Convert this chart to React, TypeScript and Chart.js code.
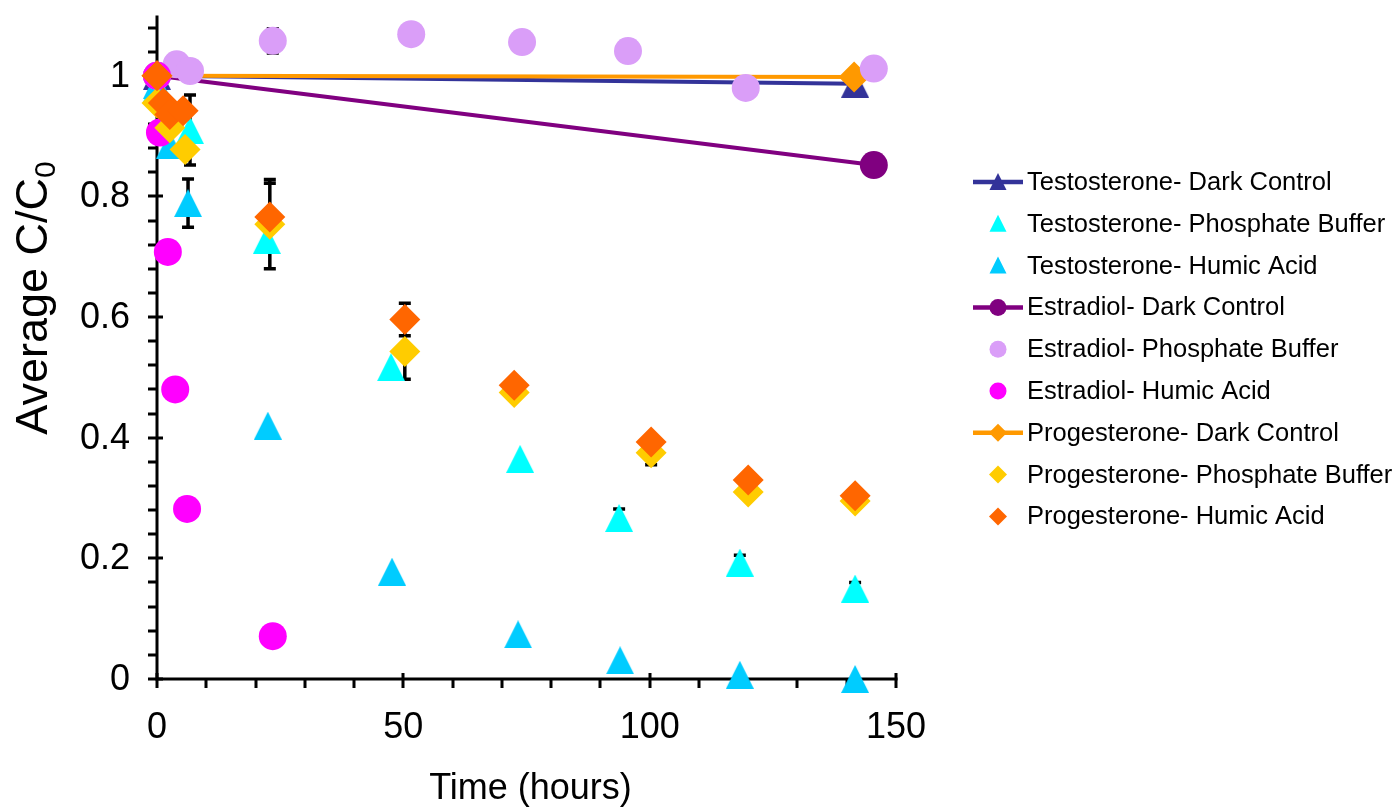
import { useEffect, useRef } from "react";
import { Chart, registerables } from "chart.js";

Chart.register(...registerables);

// ---------- axis settings ----------
const X_MIN = 0;
const X_MAX = 150;
const Y_MIN = 0;
const Y_MAX = 1.1;
const X_TICKS = [0, 50, 100, 150];
const X_TICK_LABELS = ["0", "50", "100", "150"];
const X_MINOR_STEP = 10;
const Y_TICKS = [0, 0.2, 0.4, 0.6, 0.8, 1];
const Y_TICK_LABELS = ["0", "0.2", "0.4", "0.6", "0.8", "1"];
const Y_MINOR_STEP = 0.04;
const X_TITLE = "Time (hours)";
const Y_TITLE = "Average C/C";
const Y_TITLE_SUB = "0";

// ---------- series names ----------
const SERIES_NAMES = [
  "Testosterone- Dark Control",
  "Testosterone- Phosphate Buffer",
  "Testosterone- Humic Acid",
  "Estradiol- Dark Control",
  "Estradiol- Phosphate Buffer",
  "Estradiol- Humic Acid",
  "Progesterone- Dark Control",
  "Progesterone- Phosphate Buffer",
  "Progesterone- Humic Acid",
];

// ---------- data ----------
const tDarkTime = [0, 141.7];
const tDarkValue = [1.0, 0.987];

const tPbTime = [0, 2, 6.7, 22.3, 47.5, 73.7, 93.8, 118.3, 141.7];
const tPbValue = [0.98, 0.93, 0.91, 0.728, 0.517, 0.365, 0.267, 0.193, 0.15];
const tPbError = [0, 0, 0.058, 0, 0, 0, 0.015, 0.012, 0.01];

const tHaTime = [0, 2.6, 6.3, 22.5, 47.7, 73.3, 94, 118.3, 141.7];
const tHaValue = [0.985, 0.885, 0.789, 0.42, 0.178, 0.074, 0.031, 0.007, 0.0];
const tHaError = [0, 0, 0.04, 0, 0, 0, 0, 0, 0];

const eDarkTime = [0, 145.5];
const eDarkValue = [1.0, 0.852];

const ePbTime = [0, 4, 6.7, 23.5, 51.6, 74.1, 95.6, 119.5, 145.5];
const ePbValue = [1.0, 1.019, 1.008, 1.058, 1.069, 1.056, 1.041, 0.98, 1.012];
const ePbError = [0, 0, 0, 0.02, 0, 0, 0, 0, 0];

const eHaTime = [0, 0.6, 2.2, 3.7, 6.1, 23.5];
const eHaValue = [1.0, 0.906, 0.708, 0.48, 0.282, 0.071];

const pDarkTime = [0, 141.5];
const pDarkValue = [1.0, 0.998];

const pPbTime = [0, 2.6, 5.7, 22.9, 50.3, 72.5, 100.3, 120, 141.7];
const pPbValue = [0.955, 0.914, 0.878, 0.754, 0.543, 0.475, 0.375, 0.31, 0.295];
const pPbError = [0, 0, 0, 0.074, 0.046, 0, 0.02, 0, 0];

const pHaTime = [0, 1.3, 2.6, 5.3, 22.9, 50.3, 72.5, 100.3, 120, 141.7];
const pHaValue = [1.0, 0.955, 0.936, 0.942, 0.766, 0.596, 0.487, 0.393, 0.33, 0.304];
const pHaError = [0, 0, 0, 0, 0.056, 0.027, 0, 0, 0, 0];

// ---------- styles ----------
const FONT = '"Liberation Sans", Arial, Helvetica, sans-serif';
const C_T_DARK = "#333399";
const C_T_PB = "#00FFFF";
const C_T_HA = "#00CCFF";
const C_E_DARK = "#800080";
const C_E_PB = "#DA9EF8";
const C_E_HA = "#FF00FF";
const C_P_DARK = "#FF9900";
const C_P_PB = "#FFCC00";
const C_P_HA = "#FF6600";

function makeTriangle(color: string, w: number, h: number): HTMLCanvasElement {
  const c = document.createElement("canvas");
  c.width = w;
  c.height = h;
  const g = c.getContext("2d")!;
  g.fillStyle = color;
  g.beginPath();
  g.moveTo(w / 2, 0);
  g.lineTo(w, h);
  g.lineTo(0, h);
  g.closePath();
  g.fill();
  return c;
}

type Kind = "tri" | "circle" | "diamond";

function pts(xs: number[], ys: number[]) {
  return xs.map((x, i) => ({ x, y: ys[i] }));
}

export default function App() {
  const ref = useRef<HTMLCanvasElement | null>(null);

  useEffect(() => {
    if (!ref.current) return;

    const triTD = makeTriangle(C_T_DARK, 28, 28);
    const triTPB = makeTriangle(C_T_PB, 28, 28);
    const triTHA = makeTriangle(C_T_HA, 28, 28);

    const kinds: Kind[] = ["tri", "tri", "tri", "circle", "circle", "circle", "diamond", "diamond", "diamond"];
    const colors = [C_T_DARK, C_T_PB, C_T_HA, C_E_DARK, C_E_PB, C_E_HA, C_P_DARK, C_P_PB, C_P_HA];
    const lined = [true, false, false, true, false, false, true, false, false];
    const errors: (number[] | null)[] = [null, tPbError, tHaError, null, ePbError, null, null, pPbError, pHaError];
    const data = [
      pts(tDarkTime, tDarkValue),
      pts(tPbTime, tPbValue),
      pts(tHaTime, tHaValue),
      pts(eDarkTime, eDarkValue),
      pts(ePbTime, ePbValue),
      pts(eHaTime, eHaValue),
      pts(pDarkTime, pDarkValue),
      pts(pPbTime, pPbValue),
      pts(pHaTime, pHaValue),
    ];
    const triImgs = [triTD, triTPB, triTHA];
    // draw order: dark-control lines first, then marker series
    const drawRank = [0, 3, 4, 1, 5, 6, 2, 7, 8];

    const datasets: any[] = data.map((d, i) => {
      const k = kinds[i];
      const ps = k === "tri" ? triImgs[i] : k === "circle" ? "circle" : "rectRot";
      const r = k === "circle" ? 14 : k === "diamond" ? 15.5 : 14;
      return {
        label: SERIES_NAMES[i],
        data: d,
        showLine: lined[i],
        borderColor: colors[i],
        backgroundColor: colors[i],
        pointBackgroundColor: colors[i],
        pointBorderColor: colors[i],
        pointBorderWidth: 0,
        borderWidth: 4,
        pointStyle: ps,
        pointRadius: r,
        pointHoverRadius: r,
        clip: false,
        order: 100 - drawRank[i],
      };
    });

    const decor = {
      id: "decor",
      beforeDatasetsDraw(chart: any) {
        const ctx = chart.ctx as CanvasRenderingContext2D;
        const xs = chart.scales.x;
        const ys = chart.scales.y;
        const x0 = xs.getPixelForValue(X_MIN);
        const xE = xs.getPixelForValue(X_MAX);
        const y0 = ys.getPixelForValue(Y_MIN);
        const yT = ys.getPixelForValue(Y_MAX);
        ctx.save();
        ctx.strokeStyle = "#000";
        ctx.lineWidth = 3;
        ctx.lineCap = "butt";
        ctx.beginPath();
        ctx.moveTo(x0, yT);
        ctx.lineTo(x0, y0 + 1.5);
        ctx.moveTo(x0 - 1.5, y0);
        ctx.lineTo(xE + 1.5, y0);
        ctx.stroke();
        // y ticks
        ctx.beginPath();
        for (let v = Y_MIN; v <= Y_MAX + 1e-9; v += Y_MINOR_STEP) {
          const py = Math.round(ys.getPixelForValue(v));
          const major = Y_TICKS.some((t) => Math.abs(t - v) < 1e-6);
          ctx.moveTo(x0 - 9, py);
          ctx.lineTo(major ? x0 + 6 : x0, py);
        }
        // x ticks
        for (let v = X_MIN; v <= X_MAX + 1e-9; v += X_MINOR_STEP) {
          const px = Math.round(xs.getPixelForValue(v));
          const major = X_TICKS.some((t) => Math.abs(t - v) < 1e-6);
          ctx.moveTo(px, y0 + 9);
          ctx.lineTo(px, major ? y0 - 6 : y0);
        }
        ctx.stroke();
        // error bars
        ctx.lineWidth = 3.5;
        ctx.beginPath();
        data.forEach((d, i) => {
          const e = errors[i];
          if (!e) return;
          d.forEach((p, j) => {
            if (!e[j]) return;
            const px = xs.getPixelForValue(p.x);
            const top = ys.getPixelForValue(p.y + e[j]);
            const bot = ys.getPixelForValue(p.y - e[j]);
            ctx.moveTo(px, top);
            ctx.lineTo(px, bot);
            ctx.moveTo(px - 6, top);
            ctx.lineTo(px + 6, top);
            ctx.moveTo(px - 6, bot);
            ctx.lineTo(px + 6, bot);
          });
        });
        ctx.stroke();
        ctx.restore();
      },
      afterDraw(chart: any) {
        const ctx = chart.ctx as CanvasRenderingContext2D;
        const xs = chart.scales.x;
        const ys = chart.scales.y;
        const x0 = xs.getPixelForValue(X_MIN);
        const y0 = ys.getPixelForValue(Y_MIN);
        ctx.save();
        ctx.fillStyle = "#000";
        ctx.font = `36px ${FONT}`;
        // y labels
        ctx.textAlign = "right";
        ctx.textBaseline = "middle";
        Y_TICKS.forEach((v, i) => {
          ctx.fillText(Y_TICK_LABELS[i], x0 - 27, ys.getPixelForValue(v) + 1);
        });
        // x labels
        ctx.textAlign = "center";
        X_TICKS.forEach((v, i) => {
          ctx.fillText(X_TICK_LABELS[i], xs.getPixelForValue(v), y0 + 49);
        });
        // x title
        ctx.fillText(X_TITLE, (x0 + xs.getPixelForValue(X_MAX)) / 2 + 4, y0 + 110);
        // y title
        ctx.save();
        ctx.translate(47, 298);
        ctx.rotate(-Math.PI / 2);
        ctx.textAlign = "left";
        ctx.textBaseline = "alphabetic";
        const mainFont = `45px ${FONT}`;
        const subFont = `30px ${FONT}`;
        ctx.font = mainFont;
        const wMain = ctx.measureText(Y_TITLE).width;
        ctx.font = subFont;
        const wSub = ctx.measureText(Y_TITLE_SUB).width;
        const start = -(wMain + wSub) / 2;
        ctx.font = mainFont;
        ctx.fillText(Y_TITLE, start, 0);
        ctx.font = subFont;
        ctx.fillText(Y_TITLE_SUB, start + wMain, 8);
        ctx.restore();

        // legend
        const lx0 = 973;
        const lx1 = 1023;
        const mx = 998;
        const tx = 1027;
        const rowY0 = 182;
        const rowStep = 41.8;
        ctx.font = `25.5px ${FONT}`;
        ctx.textAlign = "left";
        ctx.textBaseline = "middle";
        SERIES_NAMES.forEach((name, i) => {
          const y = rowY0 + i * rowStep;
          const col = colors[i];
          if (lined[i]) {
            ctx.strokeStyle = col;
            ctx.lineWidth = 4.5;
            ctx.beginPath();
            ctx.moveTo(lx0, y);
            ctx.lineTo(lx1, y);
            ctx.stroke();
          }
          ctx.fillStyle = col;
          ctx.beginPath();
          if (kinds[i] === "tri") {
            ctx.moveTo(mx, y - 9);
            ctx.lineTo(mx + 8.5, y + 8);
            ctx.lineTo(mx - 8.5, y + 8);
            ctx.closePath();
          } else if (kinds[i] === "circle") {
            ctx.arc(mx, y, 8.5, 0, Math.PI * 2);
          } else {
            ctx.moveTo(mx, y - 9);
            ctx.lineTo(mx + 9, y);
            ctx.lineTo(mx, y + 9);
            ctx.lineTo(mx - 9, y);
            ctx.closePath();
          }
          ctx.fill();
          ctx.fillStyle = "#000";
          ctx.fillText(name, tx, y + 1);
        });
        ctx.restore();
      },
    };

    const chart = new Chart(ref.current, {
      type: "scatter",
      data: { datasets },
      options: {
        responsive: false,
        animation: false,
        events: [],
        layout: { padding: { left: 157, right: 1397 - 896, top: 12, bottom: 808 - 679 } },
        scales: {
          x: { type: "linear", min: X_MIN, max: X_MAX, display: false },
          y: { type: "linear", min: Y_MIN, max: Y_MAX, display: false },
        },
        plugins: { legend: { display: false }, tooltip: { enabled: false } },
      },
      plugins: [decor],
    } as any);

    return () => chart.destroy();
  }, []);

  return (
    <div style={{ position: "absolute", left: 0, top: 0, width: 1397, height: 808, background: "#fff" }}>
      <canvas ref={ref} width={1397} height={808} style={{ display: "block", width: 1397, height: 808 }} />
    </div>
  );
}
